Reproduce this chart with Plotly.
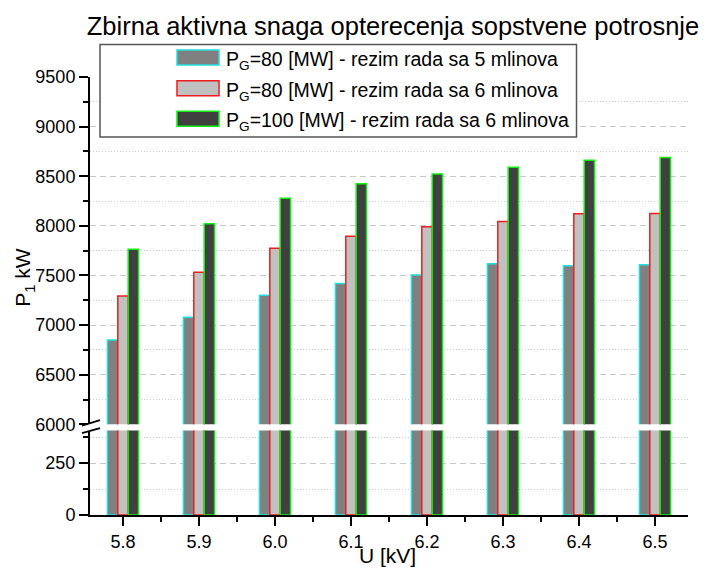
import plotly.graph_objects as go

# ---- data ----
voltages = [5.8, 5.9, 6.0, 6.1, 6.2, 6.3, 6.4, 6.5]
p_80_5 = [6850, 7080, 7300, 7420, 7505, 7617, 7598, 7607]
p_80_6 = [7293, 7533, 7775, 7896, 7990, 8044, 8121, 8124]
p_100_6 = [7765, 8020, 8278, 8423, 8523, 8591, 8661, 8688]
series_names = [
    "P<sub>G</sub>=80 [MW] - rezim rada sa 5 mlinova",
    "P<sub>G</sub>=80 [MW] - rezim rada sa 6 mlinova",
    "P<sub>G</sub>=100 [MW] - rezim rada sa 6 mlinova",
]
title_text = "Zbirna aktivna snaga opterecenja sopstvene potrosnje"
upper_ticks = [6000, 6500, 7000, 7500, 8000, 8500, 9000, 9500]
lower_ticks = [0, 250]

fills = ["#808080", "#C0C0C0", "#404040"]
edges = ["#22E0E0", "#EE1C1C", "#11EE11"]
series = [p_80_5, p_80_6, p_100_6]

W, H = 706, 570
L, R, T, B = 90, 688, 77, 515.5
PH = B - T
PW = R - L

def px_x(x):
    return (x - L) / PW

def px_y(y):
    return (B - y) / PH

FONT = "Liberation Sans, Arial, sans-serif"

fig = go.Figure()
for ya in ["y", "y2"]:
    for s, f, e, n in zip(series, fills, edges, series_names):
        fig.add_trace(go.Bar(
            x=voltages, y=s, name=n, yaxis=ya, xaxis="x",
            marker=dict(color=f, line=dict(color=e, width=1.5)),
            showlegend=False,
        ))

upper_bottom = 424.7
lower_top = 431.0
lower_max = (B - lower_top) / 52.0 * 250

axis_common = dict(
    showline=True, linecolor="black", linewidth=2,
    ticks="outside", ticklen=9, tickwidth=2, tickcolor="black",
    tickfont=dict(family=FONT, size=18, color="black"),
    zeroline=False,
    showgrid=True, gridcolor="#c8c8c8", gridwidth=1, griddash="6px,4px",
)

fig.update_layout(
    width=W, height=H,
    margin=dict(l=L, r=W - R, t=T, b=H - B),
    paper_bgcolor="white", plot_bgcolor="white",
    barmode="group", bargap=0.59, bargroupgap=0,
    font=dict(family=FONT, color="black"),
    title=dict(text=title_text, x=393 / W, xanchor="center", xref="container",
               y=1 - 26 / H, yanchor="middle", yref="container",
               font=dict(family=FONT, size=25.5, color="black")),
    xaxis=dict(
        range=[5.8 - 33 / 760, 6.5 + 33 / 760], anchor="y2",
        tickvals=voltages, ticktext=[f"{v:.1f}" for v in voltages],
        showline=True, linecolor="black", linewidth=2,
        ticks="outside", ticklen=9, tickwidth=2, tickcolor="black",
        tickfont=dict(family=FONT, size=18, color="black"),
        showgrid=False, zeroline=False,
        minor=dict(ticks="outside", ticklen=5, tickwidth=2, tickcolor="black", dtick=0.1, tick0=5.85, showgrid=False),
    ),
    yaxis=dict(
        domain=[px_y(upper_bottom), 1], range=[6000, 9500],
        tickvals=upper_ticks, anchor="x",
        minor=dict(ticks="outside", ticklen=5, tickwidth=2, tickcolor="black", dtick=500, tick0=6250,
                   showgrid=True, gridcolor="#d0d0d0", griddash="1px,2px"),
        **axis_common,
    ),
    yaxis2=dict(
        domain=[0, px_y(lower_top)], range=[0, lower_max],
        tickvals=lower_ticks, anchor="x",
        minor=dict(ticks="outside", ticklen=5, tickwidth=2, tickcolor="black", dtick=250, tick0=125,
                   showgrid=True, gridcolor="#d0d0d0", griddash="1px,2px"),
        **axis_common,
    ),
)

shapes = []
# axis break marks
shapes.append(dict(type="line", xref="paper", yref="paper",
                   x0=px_x(82), y0=px_y(426), x1=px_x(100), y1=px_y(420.5),
                   line=dict(color="black", width=2)))
shapes.append(dict(type="line", xref="paper", yref="paper",
                   x0=px_x(82), y0=px_y(433.5), x1=px_x(100), y1=px_y(428.5),
                   line=dict(color="black", width=2)))
# legend box
shapes.append(dict(type="rect", xref="paper", yref="paper",
                   x0=px_x(100), y0=px_y(44.5), x1=px_x(576.5), y1=px_y(137),
                   line=dict(color="#555555", width=1.5), fillcolor="white", layer="above"))
rows = [57.5, 88.3, 118.7]
annotations = []
for yc, f, e, n in zip(rows, fills, edges, series_names):
    shapes.append(dict(type="rect", xref="paper", yref="paper",
                       x0=px_x(177), y0=px_y(yc - 7.5), x1=px_x(219), y1=px_y(yc + 7.5),
                       line=dict(color=e, width=1.5), fillcolor=f, layer="above"))
    annotations.append(dict(xref="paper", yref="paper", x=px_x(224), y=px_y(yc + 3),
                            xanchor="left", yanchor="middle", showarrow=False, text=n,
                            font=dict(family=FONT, size=19.5, color="black")))

annotations.append(dict(xref="paper", yref="paper", x=px_x(387), y=px_y(556),
                        xanchor="center", yanchor="middle", showarrow=False, text="U [kV]",
                        font=dict(family=FONT, size=21, color="black")))
annotations.append(dict(xref="paper", yref="paper", x=px_x(24), y=px_y(278),
                        xanchor="center", yanchor="middle", showarrow=False, text="P<sub>1</sub> kW",
                        textangle=-90, font=dict(family=FONT, size=21, color="black")))

fig.update_layout(shapes=shapes, annotations=annotations)
fig.write_html("out.html",
               config={"displayModeBar": False, "staticPlot": True},
               post_script="document.body.style.margin='0';document.body.style.overflow='hidden';")
